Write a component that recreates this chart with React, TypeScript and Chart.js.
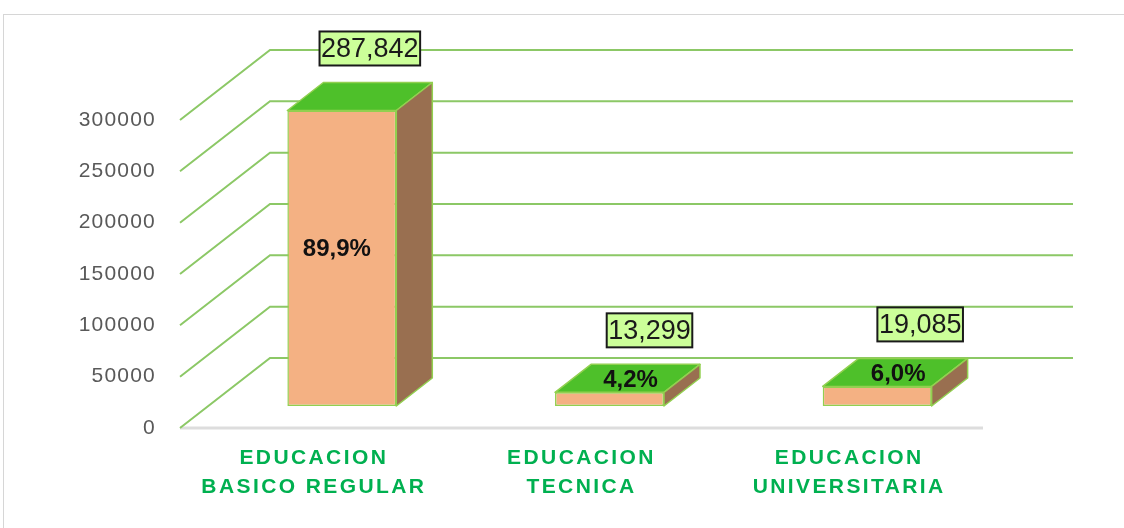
import React, { useEffect, useRef } from "react";
import { Chart, registerables } from "chart.js";

Chart.register(...registerables);

// ---- data ----
const categories: string[][] = [
  ["EDUCACION", "BASICO REGULAR"],
  ["EDUCACION", "TECNICA"],
  ["EDUCACION", "UNIVERSITARIA"],
];
const students: number[] = [287842, 13299, 19085];
const percentLabels: string[] = ["89,9%", "4,2%", "6,0%"];
const yTickValues: number[] = [0, 50000, 100000, 150000, 200000, 250000, 300000];

// ---- styling ----
const WALL_DX = 90;
const WALL_DY = -70;
const BAR_DX = 28;
const BAR_DY = -22;
const DEPTH_DX = 36;
const DEPTH_DY = -28;
const GRID = "#8CC866";
const EDGE = "#92D050";
const FRONT = "#F4B183";
const TOP = "#4EC02A";
const SIDE = "#996F50";
const VALUE_BOX_DX = [28, 40, 43];

const fmt = (v: number) => v.toLocaleString("en-US");

const threeD = {
  id: "threeD",
  beforeDraw(chart: any) {
    chart.ctx.letterSpacing = "1.2px";
  },
  beforeDatasetsDraw(chart: any) {
    const { ctx, chartArea: a } = chart;
    const y = chart.scales.y;
    ctx.save();
    ctx.letterSpacing = "0px";
    ctx.strokeStyle = "#DDDDDD";
    ctx.lineWidth = 3;
    ctx.beginPath();
    ctx.moveTo(a.left, a.bottom);
    ctx.lineTo(a.right, a.bottom);
    ctx.stroke();
    ctx.strokeStyle = GRID;
    ctx.lineWidth = 2;
    y.ticks.forEach((t: any) => {
      const py = y.getPixelForValue(t.value);
      ctx.beginPath();
      ctx.moveTo(a.left, py);
      ctx.lineTo(a.left + WALL_DX, py + WALL_DY);
      ctx.lineTo(a.right + WALL_DX, py + WALL_DY);
      ctx.stroke();
    });
    ctx.restore();
    ctx.save();
    ctx.translate(BAR_DX, BAR_DY);
  },
  afterDatasetsDraw(chart: any) {
    const ctx = chart.ctx;
    const meta = chart.getDatasetMeta(0);
    ctx.lineWidth = 1.5;
    ctx.strokeStyle = EDGE;
    ctx.lineJoin = "round";
    meta.data.forEach((bar: any) => {
      const { x, y, base, width } = bar.getProps(["x", "y", "base", "width"], true);
      const x0 = x - width / 2;
      const x1 = x + width / 2;
      // top face
      ctx.beginPath();
      ctx.moveTo(x0, y);
      ctx.lineTo(x1, y);
      ctx.lineTo(x1 + DEPTH_DX, y + DEPTH_DY);
      ctx.lineTo(x0 + DEPTH_DX, y + DEPTH_DY);
      ctx.closePath();
      ctx.fillStyle = TOP;
      ctx.fill();
      ctx.stroke();
      // side face
      ctx.beginPath();
      ctx.moveTo(x1, y);
      ctx.lineTo(x1 + DEPTH_DX, y + DEPTH_DY);
      ctx.lineTo(x1 + DEPTH_DX, base + DEPTH_DY);
      ctx.lineTo(x1, base);
      ctx.closePath();
      ctx.fillStyle = SIDE;
      ctx.fill();
      ctx.stroke();
    });
    ctx.restore();

    // labels
    ctx.save();
    ctx.letterSpacing = "0px";
    meta.data.forEach((bar: any, i: number) => {
      const { x, y, base } = bar.getProps(["x", "y", "base"], true);
      const fx = x + BAR_DX;
      const fy = y + BAR_DY;
      const fb = base + BAR_DY;
      // percent label
      ctx.font = 'bold 24px "Liberation Sans", Arial, sans-serif';
      ctx.fillStyle = "#111111";
      ctx.textAlign = "center";
      ctx.textBaseline = "middle";
      if (fb - fy > 40) {
        ctx.fillText(percentLabels[i], fx - 5, (fy + fb) / 2 - 9);
      } else {
        ctx.fillText(percentLabels[i], fx + 21, fy - 12);
      }
      // value box
      const txt = fmt(students[i]);
      ctx.font = '27px "Liberation Sans", Arial, sans-serif';
      const w = ctx.measureText(txt).width + 3;
      const h = 34;
      const cx = fx + VALUE_BOX_DX[i];
      const cy = fy - 62;
      ctx.fillStyle = "#CCFF99";
      ctx.fillRect(cx - w / 2, cy - h / 2, w, h);
      ctx.strokeStyle = "#1A1A1A";
      ctx.lineWidth = 2;
      ctx.strokeRect(cx - w / 2, cy - h / 2, w, h);
      ctx.fillStyle = "#1A1A1A";
      ctx.fillText(txt, cx, cy + 1);
    });
    ctx.restore();
    ctx.letterSpacing = "2.4px";
  },
  afterDraw(chart: any) {
    chart.ctx.letterSpacing = "0px";
  },
};

export default function App() {
  const ref = useRef<HTMLCanvasElement | null>(null);
  useEffect(() => {
    if (!ref.current) return;
    const chart = new Chart(ref.current, {
      type: "bar",
      data: {
        labels: categories,
        datasets: [
          {
            data: students,
            backgroundColor: FRONT,
            borderColor: EDGE,
            borderWidth: 1.5,
            borderSkipped: false,
            barPercentage: 1,
            categoryPercentage: 0.407,
          },
        ],
      },
      options: {
        animation: false,
        responsive: false,
        devicePixelRatio: 1,
        clip: false as any,
        layout: { padding: { left: 0, top: 120, right: 141, bottom: 0 } },
        plugins: { legend: { display: false }, tooltip: { enabled: false } },
        scales: {
          x: {
            grid: { display: false, drawTicks: false },
            border: { display: false },
            ticks: {
              z: 1,
              color: "#00B050",
              font: { family: '"Liberation Sans", Arial, sans-serif', size: 21, weight: "bold", lineHeight: 1.405 },
              padding: 15,
              maxRotation: 0,
              autoSkip: false,
            },
            afterFit: (s: any) => {
              s.height = 100;
            },
          },
          y: {
            min: 0,
            max: 300000,
            grid: { display: false, drawTicks: false },
            border: { display: false },
            afterBuildTicks: (s: any) => {
              s.ticks = yTickValues.map((v) => ({ value: v }));
            },
            ticks: {
              color: "#595959",
              font: { family: '"Liberation Sans", Arial, sans-serif', size: 21 },
              padding: 24,
              callback: (v: any) => String(v),
            },
            afterFit: (s: any) => {
              s.width = 180;
            },
          },
        },
      },
      plugins: [threeD],
    });
    return () => chart.destroy();
  }, []);

  return (
    <div style={{ position: "absolute", left: 0, top: 0, width: 1124, height: 528, overflow: "hidden", background: "#fff" }}>
      <div
        style={{
          position: "absolute",
          left: 3,
          top: 14,
          width: 1200,
          height: 600,
          border: "1px solid #D6D6D6",
          boxSizing: "border-box",
        }}
      />
      <canvas ref={ref} width={1124} height={528} style={{ position: "absolute", left: 0, top: 0 }} />
    </div>
  );
}
